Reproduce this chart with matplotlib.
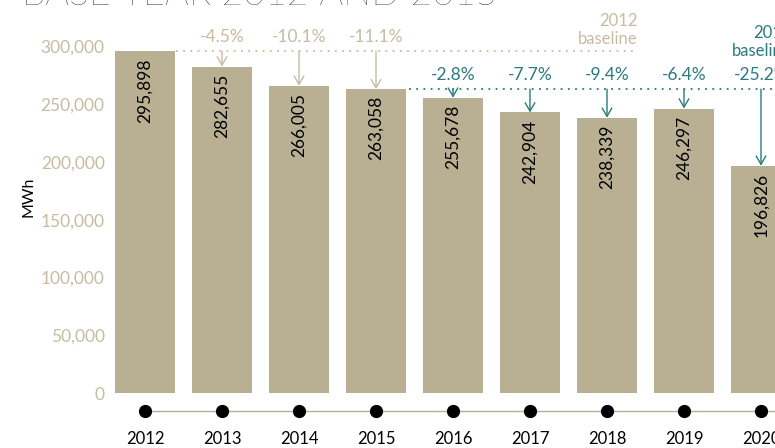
import matplotlib.pyplot as plt
from matplotlib.transforms import blended_transform_factory

plt.rcParams['font.family'] = ['Lato', 'DejaVu Sans']

# data
years = ["2012", "2013", "2014", "2015", "2016", "2017", "2018", "2019", "2020"]
mwh = [295898, 282655, 266005, 263058, 255678, 242904, 238339, 246297, 196826]
pct_2012 = ["", "-4.5%", "-10.1%", "-11.1%", "", "", "", "", ""]
pct_2015 = ["", "", "", "", "-2.8%", "-7.7%", "-9.4%", "-6.4%", "-25.2%"]
yticks = [0, 50000, 100000, 150000, 200000, 250000, 300000]

BAR = "#b9b093"
TAN = "#c6bca2"
TEAL = "#2b7a7e"

W, H = 775, 448
fig = plt.figure(figsize=(W / 100, H / 100), dpi=100)

# axes: y=0 sits at pixel row 393, bar centres 77 px apart starting at x=145
px_per_mwh = 0.001155
ax = fig.add_axes([106 / W, 55 / H, 669 / W, 393 / H])
ax.set_xlim((106 - 145) / 77, (775 - 145) / 77)
ax.set_ylim(0, 393 / px_per_mwh)

x = list(range(len(years)))
ax.bar(x, mwh, width=0.79, color=BAR, zorder=2)

# values written inside the bars
for i, v in enumerate(mwh):
    ax.annotate(f"{v:,}", (i, v), xytext=(0, -5), textcoords="offset points",
                rotation=90, ha="center", va="top", fontsize=12.5, color="black")

arrow = "->,head_length=0.6,head_width=0.35"

# 2012 baseline
base12 = mwh[0]
ax.plot([0.4, 6.4], [base12, base12], ls=(0, (1, 3)), color=TAN, lw=1.3, zorder=3)
ax.annotate("2012\nbaseline", (6.4, base12), xytext=(0, 3), textcoords="offset points",
            ha="right", va="bottom", color=TAN, fontsize=12, linespacing=1.15)
for i, p in enumerate(pct_2012):
    if p:
        ax.annotate(p, (i, base12), xytext=(0, 10), textcoords="offset points",
                    ha="center", va="center", color=TAN, fontsize=12.5)
        ax.annotate("", xy=(i, mwh[i]), xytext=(i, base12),
                    arrowprops=dict(arrowstyle=arrow, color=TAN, lw=1,
                                    shrinkA=0, shrinkB=0))

# 2015 baseline
base15 = mwh[3]
ax.plot([3.43, 8.4], [base15, base15], ls=(0, (1, 3)), color=TEAL, lw=1.3, zorder=3,
        clip_on=False)
ax.annotate("2015\nbaseline", (8.4, base15), xytext=(0, 22), textcoords="offset points",
            ha="right", va="bottom", color=TEAL, fontsize=12, linespacing=1.15,
            annotation_clip=False)
for i, p in enumerate(pct_2015):
    if p:
        ax.annotate(p, (i, base15), xytext=(0, 10), textcoords="offset points",
                    ha="center", va="center", color=TEAL, fontsize=12.5)
        ax.annotate("", xy=(i, mwh[i]), xytext=(i, base15),
                    arrowprops=dict(arrowstyle=arrow, color=TEAL, lw=1,
                                    shrinkA=0, shrinkB=0))

# timeline with dots under the bars
tl = blended_transform_factory(ax.transData, ax.transAxes)
ax.plot([0, 9], [-18 / 393] * 2, color=BAR, lw=1, transform=tl, clip_on=False, zorder=1)
ax.plot(x, [-18 / 393] * len(x), "o", color="black", ms=8.5, transform=tl,
        clip_on=False, zorder=2)

ax.set_xticks(x)
ax.set_xticklabels(years, fontsize=12, color="black")
ax.tick_params(axis="x", length=0, pad=27)
ax.set_yticks(yticks)
ax.set_yticklabels([f"{t:,}" for t in yticks], fontsize=12.5, color=TAN)
ax.tick_params(axis="y", length=0, pad=1)
for s in ax.spines.values():
    s.set_visible(False)

ax.set_ylabel("MWh", fontsize=11.5, color="black", labelpad=4)

fig.text(22 / W, 1 - 5 / H, "BASE YEAR 2012 AND 2015", fontsize=27, fontweight="light",
         color="black", va="baseline", ha="left")

fig.savefig("out.png", dpi=100)
